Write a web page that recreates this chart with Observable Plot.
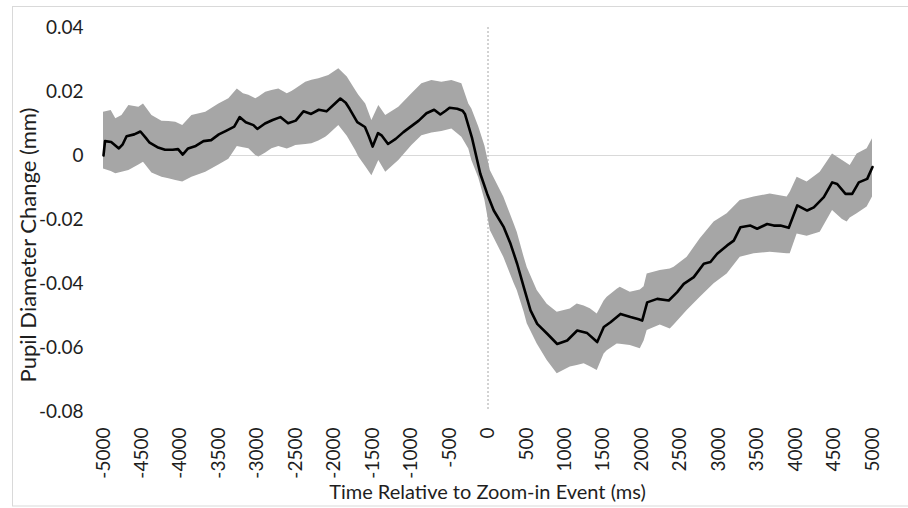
<!DOCTYPE html>
<html><head><meta charset="utf-8">
<script src="https://cdn.jsdelivr.net/npm/d3@7"></script>
<script src="https://cdn.jsdelivr.net/npm/@observablehq/plot@0.6"></script>
<style>
html,body{margin:0;padding:0;background:#fff;}
#chart{position:relative;width:908px;height:508px;overflow:hidden;}
</style></head><body><div id="chart"></div>
<script>
// Mean pupil diameter change (mm) over time (ms)
const meanTime = [-5000,-4980,-4900,-4800,-4750,-4700,-4600,-4520,-4450,-4400,-4300,-4200,-4100,-4030,-3970,-3900,-3800,-3700,-3600,-3500,-3400,-3300,-3230,-3150,-3050,-3000,-2900,-2800,-2700,-2600,-2500,-2400,-2300,-2200,-2100,-2000,-1920,-1850,-1800,-1700,-1600,-1550,-1500,-1430,-1380,-1300,-1200,-1100,-1000,-900,-800,-700,-620,-550,-500,-400,-330,-300,-210,-100,-10,75,205,293,380,466,553,640,770,900,1030,1160,1290,1420,1506,1593,1723,1853,1960,2005,2070,2200,2351,2460,2546,2676,2806,2893,2980,3110,3196,3283,3413,3500,3630,3716,3803,3911,4021,4151,4237,4367,4476,4541,4649,4736,4822,4931,5000];
const meanValue = [0.000,0.0045,0.0042,0.0022,0.0035,0.0060,0.0066,0.0075,0.0055,0.0040,0.0026,0.0018,0.0018,0.0020,0.0003,0.0022,0.0030,0.0045,0.0048,0.0066,0.0078,0.0090,0.0120,0.0104,0.0095,0.0083,0.0100,0.0111,0.0120,0.0101,0.0109,0.0138,0.0130,0.0143,0.0138,0.0160,0.0178,0.0165,0.0146,0.0104,0.0089,0.0060,0.0028,0.0070,0.0062,0.0036,0.0052,0.0073,0.0091,0.0109,0.0132,0.0143,0.0128,0.0140,0.0149,0.0146,0.0140,0.0130,0.0057,-0.0057,-0.0120,-0.0172,-0.0224,-0.0276,-0.0339,-0.0412,-0.0484,-0.0526,-0.0557,-0.0589,-0.0578,-0.0547,-0.0555,-0.0583,-0.0536,-0.0521,-0.0495,-0.0505,-0.0512,-0.0516,-0.0459,-0.0448,-0.0453,-0.0427,-0.0401,-0.0380,-0.0338,-0.0333,-0.0307,-0.0281,-0.0266,-0.0224,-0.0219,-0.0229,-0.0214,-0.0219,-0.0219,-0.0226,-0.0156,-0.0172,-0.0162,-0.0130,-0.0084,-0.0089,-0.0120,-0.0120,-0.0084,-0.0073,-0.0036];

// Shaded error band (upper / lower edge)
const bandTime  = [-5000,-4900,-4840,-4760,-4670,-4540,-4480,-4370,-4240,-4150,-4060,-3970,-3850,-3670,-3500,-3370,-3260,-3180,-3110,-3020,-2980,-2890,-2810,-2720,-2610,-2550,-2500,-2370,-2290,-2200,-2110,-2070,-1940,-1830,-1720,-1680,-1590,-1510,-1420,-1330,-1160,-990,-860,-730,-600,-470,-340,-250,-210,-120,-40,30,205,340,380,470,510,640,770,900,1070,1160,1250,1330,1420,1510,1550,1680,1720,1850,1980,2030,2070,2240,2370,2420,2590,2760,2940,3110,3280,3460,3670,3890,3930,4020,4150,4320,4480,4610,4670,4710,4800,4930,5000];
const bandUpper = [0.0135,0.0141,0.0115,0.0125,0.0156,0.0151,0.0161,0.0125,0.0107,0.0106,0.0104,0.0094,0.0125,0.0135,0.0161,0.0177,0.0208,0.0193,0.0188,0.0177,0.0183,0.0198,0.0203,0.0208,0.0193,0.0200,0.0208,0.0229,0.0235,0.0240,0.0247,0.0250,0.0271,0.0245,0.0203,0.0188,0.0161,0.0109,0.0156,0.0125,0.0151,0.0193,0.0224,0.0234,0.0229,0.0234,0.0224,0.0161,0.0145,0.0089,0.0030,-0.0047,-0.0130,-0.0214,-0.0240,-0.0318,-0.0350,-0.0422,-0.0465,-0.0490,-0.0480,-0.0464,-0.0470,-0.0479,-0.0495,-0.0455,-0.0443,-0.0418,-0.0412,-0.0427,-0.0420,-0.0410,-0.0370,-0.0359,-0.0355,-0.0349,-0.0318,-0.0260,-0.0208,-0.0182,-0.0141,-0.0130,-0.0120,-0.0130,-0.0115,-0.0068,-0.0083,-0.0052,0.0005,-0.0016,-0.0025,-0.0031,0.0005,0.0021,0.0052];
const bandLower = [-0.0042,-0.0050,-0.0057,-0.0052,-0.0047,-0.0030,-0.0021,-0.0055,-0.0068,-0.0073,-0.0078,-0.0083,-0.0068,-0.0052,-0.0030,-0.0012,0.0028,0.0024,0.0021,0.0000,-0.0005,0.0008,0.0021,0.0028,0.0020,0.0026,0.0031,0.0034,0.0037,0.0045,0.0057,0.0065,0.0094,0.0060,0.0015,-0.0005,-0.0035,-0.0063,-0.0016,-0.0052,-0.0016,0.0031,0.0062,0.0070,0.0075,0.0083,0.0057,0.0020,-0.0016,-0.0070,-0.0140,-0.0234,-0.0318,-0.0400,-0.0422,-0.0490,-0.0526,-0.0589,-0.0641,-0.0682,-0.0661,-0.0656,-0.0651,-0.0660,-0.0672,-0.0620,-0.0610,-0.0589,-0.0590,-0.0594,-0.0604,-0.0580,-0.0547,-0.0530,-0.0542,-0.0530,-0.0484,-0.0443,-0.0401,-0.0370,-0.0318,-0.0307,-0.0302,-0.0307,-0.0307,-0.0245,-0.0252,-0.0240,-0.0172,-0.0200,-0.0208,-0.0195,-0.0182,-0.0161,-0.0130];

const xTicks = [-5000,-4500,-4000,-3500,-3000,-2500,-2000,-1500,-1000,-500,0,500,1000,1500,2000,2500,3000,3500,4000,4500,5000];
const yTicks = [0.04,0.02,0,-0.02,-0.04,-0.06,-0.08];
const xTitle = "Time Relative to Zoom-in Event (ms)";
const yTitle = "Pupil Diameter Change (mm)";

const meanData = meanTime.map((t, i) => ({t, v: meanValue[i]}));
const bandData = bandTime.map((t, i) => ({t, hi: bandUpper[i], lo: bandLower[i]}));

const plot = Plot.plot({
  width: 908, height: 508,
  marginLeft: 103, marginRight: 36, marginTop: 27, marginBottom: 97,
  style: {fontFamily: "Lato", fontSize: "19px", color: "#1e1e1e", background: "#fff", overflow: "visible"},
  x: {domain: [-5000, 5000], ticks: xTicks, tickFormat: d => String(d), tickSize: 0, tickPadding: 16, tickRotate: -90, label: null},
  y: {domain: [-0.08, 0.04], ticks: yTicks, tickFormat: d => d === 0 ? "0" : d.toFixed(2), tickSize: 0, tickPadding: 20, label: null},
  marks: [
    Plot.ruleY([0], {stroke: "#d9d9d9", strokeWidth: 1}),
    Plot.ruleX([0], {stroke: "#a6a6a6", strokeWidth: 1, strokeDasharray: "2,2"}),
    Plot.areaY(bandData, {x: "t", y1: "lo", y2: "hi", fill: "#a6a6a6"}),
    Plot.lineY(meanData, {x: "t", y: "v", stroke: "#000", strokeWidth: 2.6})
  ]
});

const svg = d3.select(plot);
svg.insert("rect", ":first-child")
  .attr("x", 12.5).attr("y", 6.5).attr("width", 920).attr("height", 499.5)
  .attr("fill", "none").attr("stroke", "#d9d9d9");
svg.append("text")
  .attr("x", 487.5).attr("y", 499).attr("text-anchor", "middle")
  .attr("fill", "#1e1e1e").style("font-size", "20px").text(xTitle);
svg.append("text")
  .attr("transform", "translate(36,245) rotate(-90)").attr("text-anchor", "middle")
  .attr("fill", "#1e1e1e").style("font-size", "22px").text(yTitle);

document.getElementById("chart").appendChild(plot);
</script></body></html>
